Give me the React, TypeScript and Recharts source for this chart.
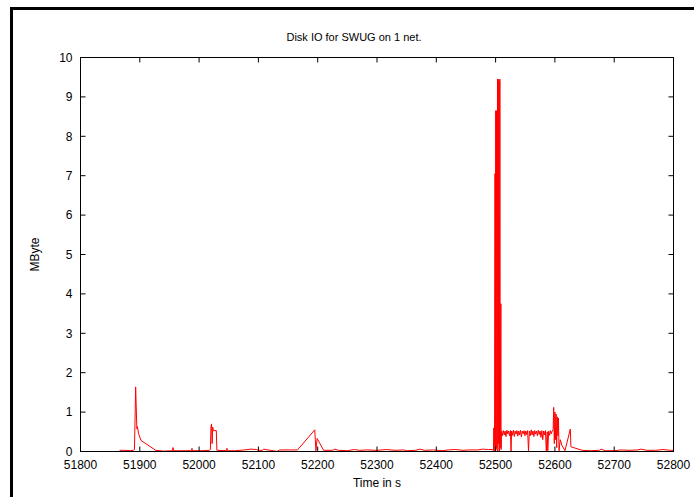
import { LineChart, Line, XAxis, YAxis, Label, ReferenceArea } from 'recharts'

// sample time (s) and disk IO (MByte)
const times = [
  51866, 51875, 51884, 51889, 51891, 51893, 51895, 51896, 51898, 51902, 51927, 51940,
  51955, 51956, 51957, 51970, 51987, 51988, 51989, 52005, 52017, 52019, 52020, 52021,
  52022, 52023, 52024, 52029, 52030, 52046, 52047, 52048, 52060, 52077, 52087, 52097,
  52100, 52107, 52109, 52116, 52125, 52131, 52136, 52150, 52166, 52195, 52196, 52197,
  52199, 52210, 52225, 52229, 52235, 52250, 52262, 52270, 52283, 52300, 52316, 52330,
  52345, 52350, 52365, 52372, 52380, 52395, 52410, 52420, 52432, 52445, 52455, 52470,
  52478, 52488, 52494, 52496.5, 52497, 52497.5, 52498.3, 52499, 52499.5, 52500.2, 52500.8, 52501.5,
  52502.3, 52503.2, 52503.8, 52504.5, 52505.2, 52505.9, 52506.6, 52507.2, 52507.8, 52508.9, 52509.3, 52510,
  52511.5, 52513, 52514.5, 52516, 52517.5, 52519, 52520.5, 52522, 52523.5, 52525, 52526, 52527,
  52528.5, 52530, 52531.5, 52533, 52534.5, 52536, 52537.5, 52539, 52540.5, 52542, 52543.5, 52545,
  52546.5, 52548, 52549.5, 52551, 52552.5, 52554, 52555.5, 52557, 52558.5, 52560, 52561.5, 52563,
  52564.5, 52566, 52567.5, 52569, 52570.5, 52572, 52573.5, 52575, 52576.5, 52578, 52579.5, 52581,
  52582.5, 52584, 52585.5, 52587, 52588, 52589.5, 52591, 52592.5, 52594, 52595.5, 52597, 52598,
  52599, 52600, 52601, 52602, 52603, 52604, 52605, 52606, 52607, 52609, 52612, 52617,
  52626, 52627, 52646, 52660, 52675, 52678, 52685, 52700, 52712, 52725, 52740, 52745,
  52755, 52770, 52782, 52795, 52800,
]
const mbytes = [
  0.03, 0.03, 0.02, 0.03, 0.05, 1.64, 0.58, 0.63, 0.45, 0.28, 0.03, 0.01,
  0.02, 0.1, 0.02, 0.02, 0.02, 0.08, 0.02, 0.02, 0.03, 0.05, 0.62, 0.7,
  0.2, 0.62, 0.53, 0.53, 0.03, 0.02, 0.08, 0.02, 0.02, 0.04, 0.06, 0.05,
  0.03, 0.03, 0.06, 0.04, 0.02, 0.0, 0.04, 0.04, 0.04, 0.55, 0.3, 0.02,
  0.33, 0.03, 0.03, 0.06, 0.03, 0.02, 0.05, 0.03, 0.04, 0.03, 0.05, 0.03,
  0.04, 0.02, 0.03, 0.06, 0.03, 0.04, 0.02, 0.04, 0.05, 0.03, 0.04, 0.04,
  0.06, 0.05, 0.05, 0.03, 0.6, 0.02, 0.35, 7.05, 0.0, 8.65, 0.05, 8.65,
  0.1, 9.45, 0.0, 9.45, 0.2, 9.4, 0.0, 9.45, 0.1, 3.75, 0.05, 0.52,
  0.4, 0.53, 0.42, 0.52, 0.38, 0.54, 0.45, 0.52, 0.4, 0.53, 0.01, 0.52,
  0.41, 0.54, 0.38, 0.52, 0.44, 0.53, 0.39, 0.52, 0.42, 0.54, 0.37, 0.52,
  0.45, 0.53, 0.4, 0.52, 0.43, 0.53, 0.01, 0.52, 0.4, 0.55, 0.42, 0.52,
  0.38, 0.53, 0.44, 0.52, 0.4, 0.54, 0.43, 0.52, 0.36, 0.53, 0.3, 0.52,
  0.42, 0.53, 0.01, 0.5, 0.02, 0.52, 0.41, 0.53, 0.45, 0.52, 0.55, 1.12,
  0.2, 1.0, 0.3, 0.95, 0.1, 0.88, 0.4, 0.85, 0.02, 0.3, 0.15, 0.02,
  0.57, 0.12, 0.03, 0.02, 0.03, 0.06, 0.02, 0.02, 0.04, 0.03, 0.04, 0.06,
  0.03, 0.03, 0.05, 0.03, 0.03,
]
const timeTicks = [51800, 51900, 52000, 52100, 52200, 52300, 52400, 52500, 52600, 52700, 52800]
const mbyteTicks = [0, 1, 2, 3, 4, 5, 6, 7, 8, 9, 10]

const data = times.map((t, i) => ({ t, mb: mbytes[i] }))

const FONT = '"Liberation Sans", Arial, sans-serif'
const tickStyle = { fontSize: 12, fill: '#000', fontFamily: FONT }
const axisLine = { stroke: '#000', strokeWidth: 1 }

export default function App() {
  return (
    <div style={{ position: 'fixed', left: 0, top: 0, width: 694, height: 497, background: '#fff', overflow: 'hidden' }}>
      <div
        style={{
          position: 'absolute',
          left: 10,
          top: 7,
          width: 684,
          height: 490,
          boxSizing: 'border-box',
          borderLeft: '3px solid #000',
          borderTop: '3px solid #000',
        }}
      />
      <div
        style={{
          position: 'absolute',
          left: 254,
          width: 200,
          top: 31,
          textAlign: 'center',
          fontFamily: FONT,
          fontSize: 11,
          color: '#000',
        }}
      >
        Disk IO for SWUG on 1 net.
      </div>
      <div style={{ position: 'absolute', left: 0, top: 0 }}>
        <LineChart width={694} height={497} data={data} margin={{ top: 56.5, right: 19.5, bottom: 0, left: 0 }}>
          <XAxis
            dataKey="t"
            type="number"
            domain={[51800, 52800]}
            ticks={timeTicks}
            height={45.5}
            tickSize={-5}
            tickMargin={14}
            tick={tickStyle}
            axisLine={axisLine}
            tickLine={{ stroke: '#000' }}
          >
            <Label
              value="Time in s"
              position="insideBottom"
              offset={10}
              style={{ fontSize: 12, fill: '#000', fontFamily: FONT }}
            />
          </XAxis>
          <XAxis
            xAxisId="top"
            dataKey="t"
            orientation="top"
            type="number"
            domain={[51800, 52800]}
            ticks={timeTicks}
            height={1}
            tickSize={-5}
            tickFormatter={() => ''}
            axisLine={axisLine}
            tickLine={{ stroke: '#000' }}
            allowDataOverflow
          />
          <YAxis
            type="number"
            domain={[0, 10]}
            ticks={mbyteTicks}
            width={80.5}
            tickSize={-5}
            tickMargin={13}
            tick={tickStyle}
            axisLine={axisLine}
            tickLine={{ stroke: '#000' }}
          >
            <Label
              content={({ viewBox }: any) => {
                const cx = 35
                const cy = viewBox.y + viewBox.height / 2
                return (
                  <text
                    x={cx}
                    y={cy}
                    textAnchor="middle"
                    dominantBaseline="central"
                    transform={`rotate(-90 ${cx} ${cy})`}
                    style={{ fontSize: 12, fill: '#000', fontFamily: FONT }}
                  >
                    MByte
                  </text>
                )
              }}
            />
          </YAxis>
          <YAxis
            yAxisId="right"
            orientation="right"
            type="number"
            domain={[0, 10]}
            ticks={mbyteTicks}
            width={1}
            tickSize={-5}
            tickFormatter={() => ''}
            axisLine={axisLine}
            tickLine={{ stroke: '#000' }}
            allowDataOverflow
          />
          <ReferenceArea
            x1={51800}
            x2={52800}
            y1={0}
            y2={10}
            fill="none"
            fillOpacity={0}
            stroke="#000"
            strokeWidth={1}
            strokeOpacity={1}
            ifOverflow="extendDomain"
          />
          <Line
            type="linear"
            dataKey="mb"
            stroke="#ff0000"
            strokeWidth={1}
            dot={false}
            isAnimationActive={false}
          />
          <Line
            xAxisId="top"
            yAxisId="right"
            type="linear"
            dataKey="mb"
            stroke="none"
            strokeWidth={0}
            dot={false}
            activeDot={false}
            legendType="none"
            isAnimationActive={false}
          />
        </LineChart>
      </div>
    </div>
  )
}
